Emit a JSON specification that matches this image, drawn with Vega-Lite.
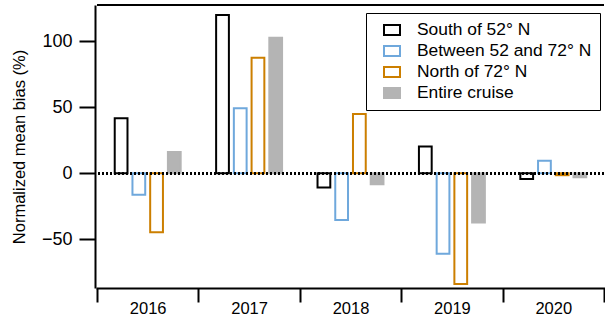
{
  "$schema": "https://vega.github.io/schema/vega-lite/v6.json",
  "width": 507,
  "height": 283,
  "autosize": "none",
  "padding": {"left": 97, "top": 5, "right": 1, "bottom": 36},
  "config": {
    "view": {"stroke": null},
    "font": "Liberation Sans",
    "axis": {
      "domainColor": "black",
      "domainWidth": 2,
      "tickColor": "black",
      "tickWidth": 2,
      "labelColor": "black",
      "titleColor": "black",
      "titleFontWeight": "normal",
      "grid": false
    },
    "legend": {
      "labelColor": "black"
    }
  },
  "data": {
    "values": [
      {"year": "2016", "region": "South of 52° N", "bias": 41.7},
      {"year": "2016", "region": "Between 52 and 72° N", "bias": -16.4},
      {"year": "2016", "region": "North of 72° N", "bias": -44.7},
      {"year": "2016", "region": "Entire cruise", "bias": 16.1},
      {"year": "2017", "region": "South of 52° N", "bias": 119.9},
      {"year": "2017", "region": "Between 52 and 72° N", "bias": 49.2},
      {"year": "2017", "region": "North of 72° N", "bias": 87.6},
      {"year": "2017", "region": "Entire cruise", "bias": 102.7},
      {"year": "2018", "region": "South of 52° N", "bias": -10.9},
      {"year": "2018", "region": "Between 52 and 72° N", "bias": -35.4},
      {"year": "2018", "region": "North of 72° N", "bias": 44.9},
      {"year": "2018", "region": "Entire cruise", "bias": -8.3},
      {"year": "2019", "region": "South of 52° N", "bias": 20.2},
      {"year": "2019", "region": "Between 52 and 72° N", "bias": -61.1},
      {"year": "2019", "region": "North of 72° N", "bias": -83.9},
      {"year": "2019", "region": "Entire cruise", "bias": -37.4},
      {"year": "2020", "region": "South of 52° N", "bias": -4.3},
      {"year": "2020", "region": "Between 52 and 72° N", "bias": 9.5},
      {"year": "2020", "region": "North of 72° N", "bias": -1.5},
      {"year": "2020", "region": "Entire cruise", "bias": -3.0}
    ]
  },
  "layer": [
    {
      "mark": {"type": "bar", "strokeWidth": 2},
      "encoding": {
        "x": {
          "field": "year",
          "type": "nominal",
          "scale": {"paddingInner": 0, "paddingOuter": 0},
          "axis": {
            "title": null,
            "labelAngle": 0,
            "labelFontSize": 16.5,
            "tickBand": "extent",
            "tickSize": 14,
            "labelPadding": -2,
            "domainCap": "square"
          }
        },
        "xOffset": {
          "field": "region",
          "type": "nominal",
          "scale": {
            "domain": ["South of 52° N", "Between 52 and 72° N", "North of 72° N", "Entire cruise"],
            "paddingInner": 0.28,
            "paddingOuter": 1.18
          }
        },
        "y": {
          "field": "bias",
          "type": "quantitative",
          "scale": {"domain": [-87, 127.5], "nice": false, "zero": false},
          "axis": {
            "title": "Normalized mean bias (%)",
            "titleFontSize": 16.5,
            "labelFontSize": 18,
            "values": [-50, 0, 50, 100],
            "tickSize": 16,
            "labelPadding": 7,
            "offset": 2,
            "titlePadding": 14
          }
        },
        "stroke": {
          "field": "region",
          "type": "nominal",
          "scale": {
            "domain": ["South of 52° N", "Between 52 and 72° N", "North of 72° N", "Entire cruise"],
            "range": ["#000000", "#6fa8dc", "#cc7f00", "#b4b4b4"]
          },
          "legend": {
            "title": null,
            "orient": "none",
            "legendX": 269,
            "legendY": 8,
            "strokeColor": "black",
            "fillColor": "white",
            "padding": 8,
            "symbolOffset": 9,
            "symbolType": "M-1,-0.625H1V0.625H-1Z",
            "symbolSize": 256,
            "symbolStrokeWidth": 2,
            "labelFontSize": 17.4,
            "labelOffset": 16,
            "rowPadding": 3,
            "labelLimit": 300
          }
        },
        "fill": {
          "field": "region",
          "type": "nominal",
          "scale": {
            "domain": ["South of 52° N", "Between 52 and 72° N", "North of 72° N", "Entire cruise"],
            "range": ["#ffffff", "#ffffff", "#ffffff", "#b4b4b4"]
          }
        }
      }
    },
    {
      "mark": {"type": "rule", "color": "black", "strokeWidth": 2, "strokeDash": [2, 2]},
      "encoding": {"y": {"datum": 0}}
    },
    {
      "mark": {"type": "rule", "color": "black", "strokeWidth": 2},
      "encoding": {"y": {"datum": 127.5}}
    }
  ]
}
